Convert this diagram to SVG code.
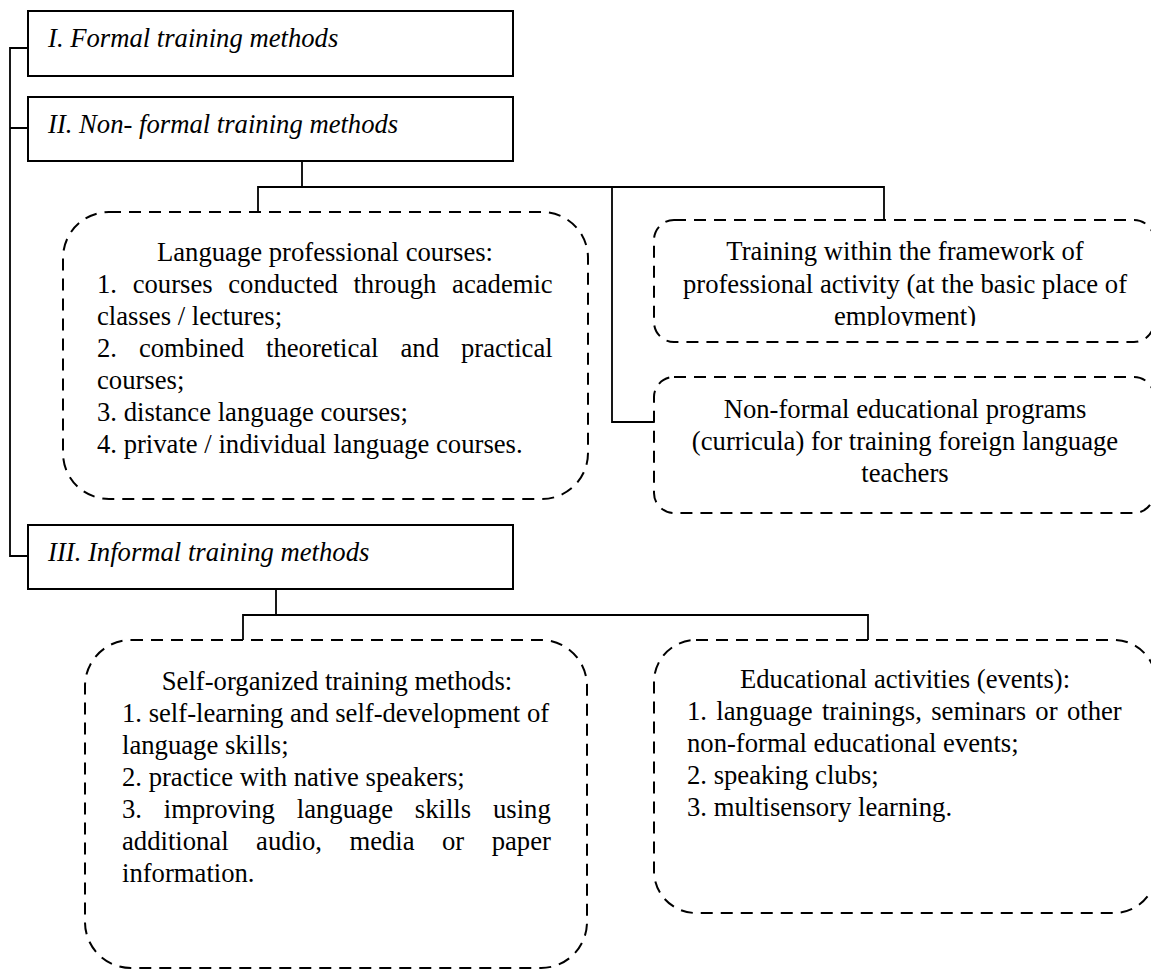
<svg xmlns="http://www.w3.org/2000/svg" width="1151" height="971" viewBox="0 0 1151 971">
<defs>
<style>
.box{fill:#fff;stroke:#000;stroke-width:2}
.dash{fill:#fff;stroke:#000;stroke-width:2;stroke-dasharray:12 8}
.ln{fill:none;stroke:#000;stroke-width:1.8}
text{font-family:"Liberation Serif","Times New Roman",serif;font-size:26.67px;fill:#000}
.it{font-style:italic}
.c{text-anchor:middle}
</style>
<clipPath id="clipTrain"><rect x="654" y="220" width="497" height="106"/></clipPath>
</defs>
<rect width="1151" height="971" fill="#fff"/>
<g id="connectors">
<path class="ln" d="M28,48 H10 V556 H28 M10,128 H28"/>
<path class="ln" d="M302,161 V187 M258,212 V187 H884 V220 M612,187 V422 H654"/>
<path class="ln" d="M276,589 V615 M243,640 V615 H868 V640"/>
</g>
<g id="formal">
<rect class="box" x="28" y="11" width="485" height="65"/>
<text class="it" x="48" y="47">I. Formal training methods</text>
</g>
<g id="nonformal">
<rect class="box" x="28" y="97" width="485" height="64"/>
<text class="it" x="48" y="133">II. Non- formal training methods</text>
</g>
<g id="informal">
<rect class="box" x="28" y="525" width="485" height="64"/>
<text class="it" x="48" y="561">III. Informal training methods</text>
</g>
<g id="language-courses">
<rect class="dash" x="63" y="212" width="525" height="287" rx="46" ry="46"/>
<text class="c" x="325" y="261">Language professional courses:</text>
<text x="97" y="293" word-spacing="9">1. courses conducted through academic</text>
<text x="97" y="325">classes / lectures;</text>
<text x="97" y="357" word-spacing="15.3">2. combined theoretical and practical</text>
<text x="97" y="389">courses;</text>
<text x="97" y="421">3. distance language courses;</text>
<text x="97" y="453">4. private / individual language courses.</text>
</g>
<g id="training-framework">
<rect class="dash" x="654" y="220" width="500" height="122" rx="20" ry="20"/>
<g clip-path="url(#clipTrain)">
<text class="c" x="905" y="260">Training within the framework of</text>
<text class="c" x="905" y="292.5">professional activity (at the basic place of</text>
<text class="c" x="905" y="325">employment)</text>
</g>
</g>
<g id="nonformal-programs">
<rect class="dash" x="654" y="377" width="500" height="136" rx="20" ry="20"/>
<text class="c" x="905" y="418">Non-formal educational programs</text>
<text class="c" x="905" y="450">(curricula) for training foreign language</text>
<text class="c" x="905" y="482">teachers</text>
</g>
<g id="self-organized">
<rect class="dash" x="85" y="640" width="502" height="328" rx="46" ry="46"/>
<text class="c" x="337" y="690">Self-organized training methods:</text>
<text x="122" y="722">1. self-learning and self-development of</text>
<text x="122" y="754">language skills;</text>
<text x="122" y="786">2. practice with native speakers;</text>
<text x="122" y="818" word-spacing="15.2">3. improving language skills using</text>
<text x="122" y="850" word-spacing="20.8">additional audio, media or paper</text>
<text x="122" y="882">information.</text>
</g>
<g id="educational-activities">
<rect class="dash" x="654" y="640" width="502" height="273" rx="42" ry="42"/>
<text class="c" x="905" y="688">Educational activities (events):</text>
<text x="687" y="720" word-spacing="2.7">1. language trainings, seminars or other</text>
<text x="687" y="752">non-formal educational events;</text>
<text x="687" y="784">2. speaking clubs;</text>
<text x="687" y="816">3. multisensory learning.</text>
</g>
</svg>
